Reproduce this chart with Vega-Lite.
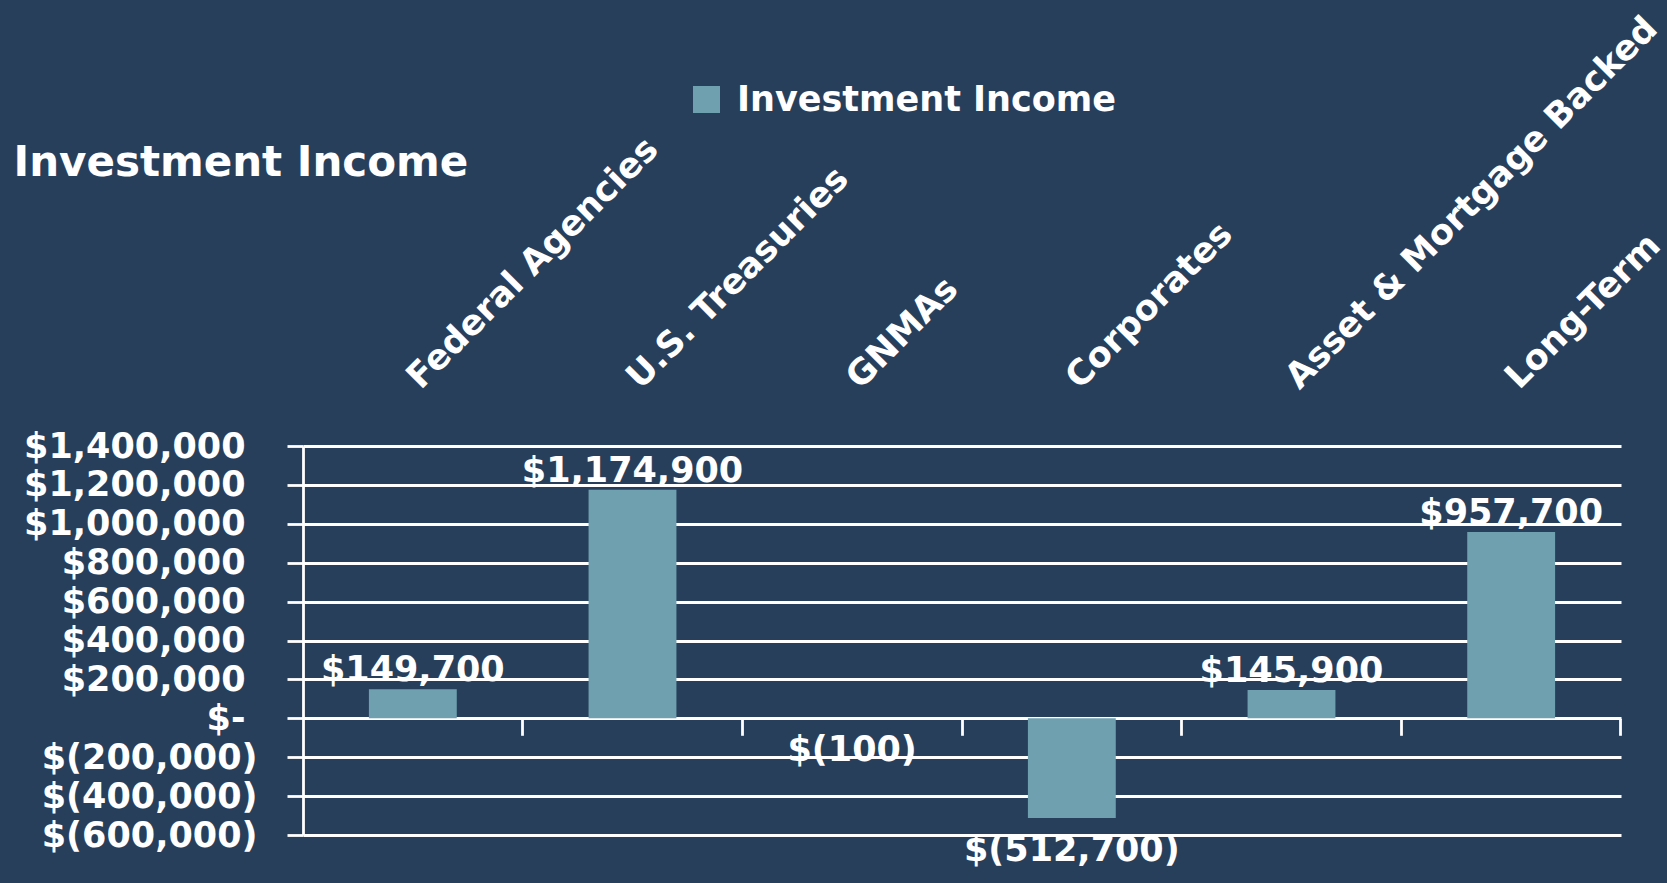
{
  "$schema": "https://vega.github.io/schema/vega-lite/v6.json",
  "width": 1318,
  "height": 389,
  "autosize": {"type": "none"},
  "padding": {"left": 303, "top": 446, "right": 46, "bottom": 48},
  "background": "#283F5C",
  "config": {"view": {"stroke": null}, "font": "DejaVu Sans"},
  "data": {
    "values": [
      {"category": "Federal Agencies", "income": 149700, "series": "Investment Income"},
      {"category": "U.S. Treasuries", "income": 1174900, "series": "Investment Income"},
      {"category": "GNMAs", "income": -100, "series": "Investment Income"},
      {"category": "Corporates", "income": -512700, "series": "Investment Income"},
      {"category": "Asset & Mortgage Backed", "income": 145900, "series": "Investment Income"},
      {"category": "Long-Term", "income": 957700, "series": "Investment Income"}
    ]
  },
  "transform": [
    {"calculate": "datum.income < 0 ? '$(' + format(-datum.income, ',') + ')' : '$' + format(datum.income, ',')", "as": "label"}
  ],
  "encoding": {
    "y": {
      "field": "income", "type": "quantitative",
      "scale": {"domain": [-600000, 1400000], "nice": false},
      "axis": {
        "orient": "left",
        "values": [-600000, -400000, -200000, 0, 200000, 400000, 600000, 800000, 1000000, 1200000, 1400000],
        "grid": true, "gridColor": "#FFFFFF", "gridWidth": 2.8, "gridOpacity": 1,
        "domainColor": "#FFFFFF", "domainWidth": 2.8,
        "tickColor": "#FFFFFF", "tickSize": 16, "tickWidth": 2.8,
        "labelExpr": "datum.value == 0 ? '$-' : datum.value > 0 ? '$' + format(datum.value, ',') : '$(' + format(-datum.value, ',') + ')'",
        "labelPadding": {"expr": "datum.value < 0 ? 30 : 42"},
        "labelFont": "DejaVu Sans", "labelFontWeight": "bold", "labelFontSize": 35, "labelLimit": 0,
        "labelColor": "#FFFFFF", "labelOverlap": false, "labelBound": false, "labelFlush": false,
        "title": "Investment Income", "titleX": -290, "titleY": -271, "titleAngle": 0,
        "titleAlign": "left", "titleBaseline": "alphabetic",
        "titleFont": "DejaVu Sans", "titleFontWeight": "bold", "titleFontSize": 42, "titleColor": "#FFFFFF"
      }
    }
  },
  "layer": [
    {
      "mark": {"type": "bar"},
      "encoding": {
        "x": {
          "field": "category", "type": "nominal", "sort": null,
          "scale": {"domain": ["Federal Agencies", "U.S. Treasuries", "GNMAs", "Corporates", "Asset & Mortgage Backed", "Long-Term"], "paddingInner": 0.6, "paddingOuter": 0.3},
          "axis": {
            "orient": "top", "domain": false, "ticks": false, "grid": false, "title": null,
            "labelAngle": -45, "labelAlign": "left", "labelBaseline": "alphabetic",
            "labelPadding": 56, "labelOffset": 8, "labelFont": "DejaVu Sans", "labelFontWeight": "bold",
            "labelFontSize": 35, "labelColor": "#FFFFFF", "labelLimit": 0,
            "labelOverlap": false, "labelBound": false, "labelFlush": false
          }
        },
        "color": {
          "field": "series", "type": "nominal",
          "scale": {"range": ["#6FA0AF"]},
          "legend": {
            "orient": "none", "legendX": 386, "legendY": -364, "title": null,
            "symbolType": "square", "symbolSize": 729, "symbolStrokeWidth": 0, "symbolOpacity": 1,
            "labelFont": "DejaVu Sans", "labelFontWeight": "bold", "labelFontSize": 35, "labelLimit": 0,
            "labelColor": "#FFFFFF", "labelOffset": 13, "padding": 0
          }
        }
      }
    },
    {
      "transform": [{"filter": "datum.income >= 0"}],
      "mark": {"type": "text", "align": "center", "baseline": "alphabetic", "dy": -8, "font": "DejaVu Sans", "fontWeight": "bold", "fontSize": 35, "color": "#FFFFFF"},
      "encoding": {
        "x": {
          "field": "category", "type": "nominal", "sort": null,
          "axis": {
            "orient": "bottom", "offset": -116.7, "domain": false, "labels": false, "grid": false, "title": null,
            "ticks": true, "bandPosition": 1.75, "tickSize": 17, "tickWidth": 2.8, "tickColor": "#FFFFFF"
          }
        },
        "text": {"field": "label", "type": "nominal"}
      }
    },
    {
      "transform": [{"filter": "datum.income < 0"}],
      "mark": {"type": "text", "align": "center", "baseline": "top", "dy": 15, "font": "DejaVu Sans", "fontWeight": "bold", "fontSize": 35, "color": "#FFFFFF"},
      "encoding": {
        "x": {"field": "category", "type": "nominal", "sort": null, "axis": null},
        "text": {"field": "label", "type": "nominal"}
      }
    }
  ],
  "resolve": {"axis": {"x": "independent"}}
}
